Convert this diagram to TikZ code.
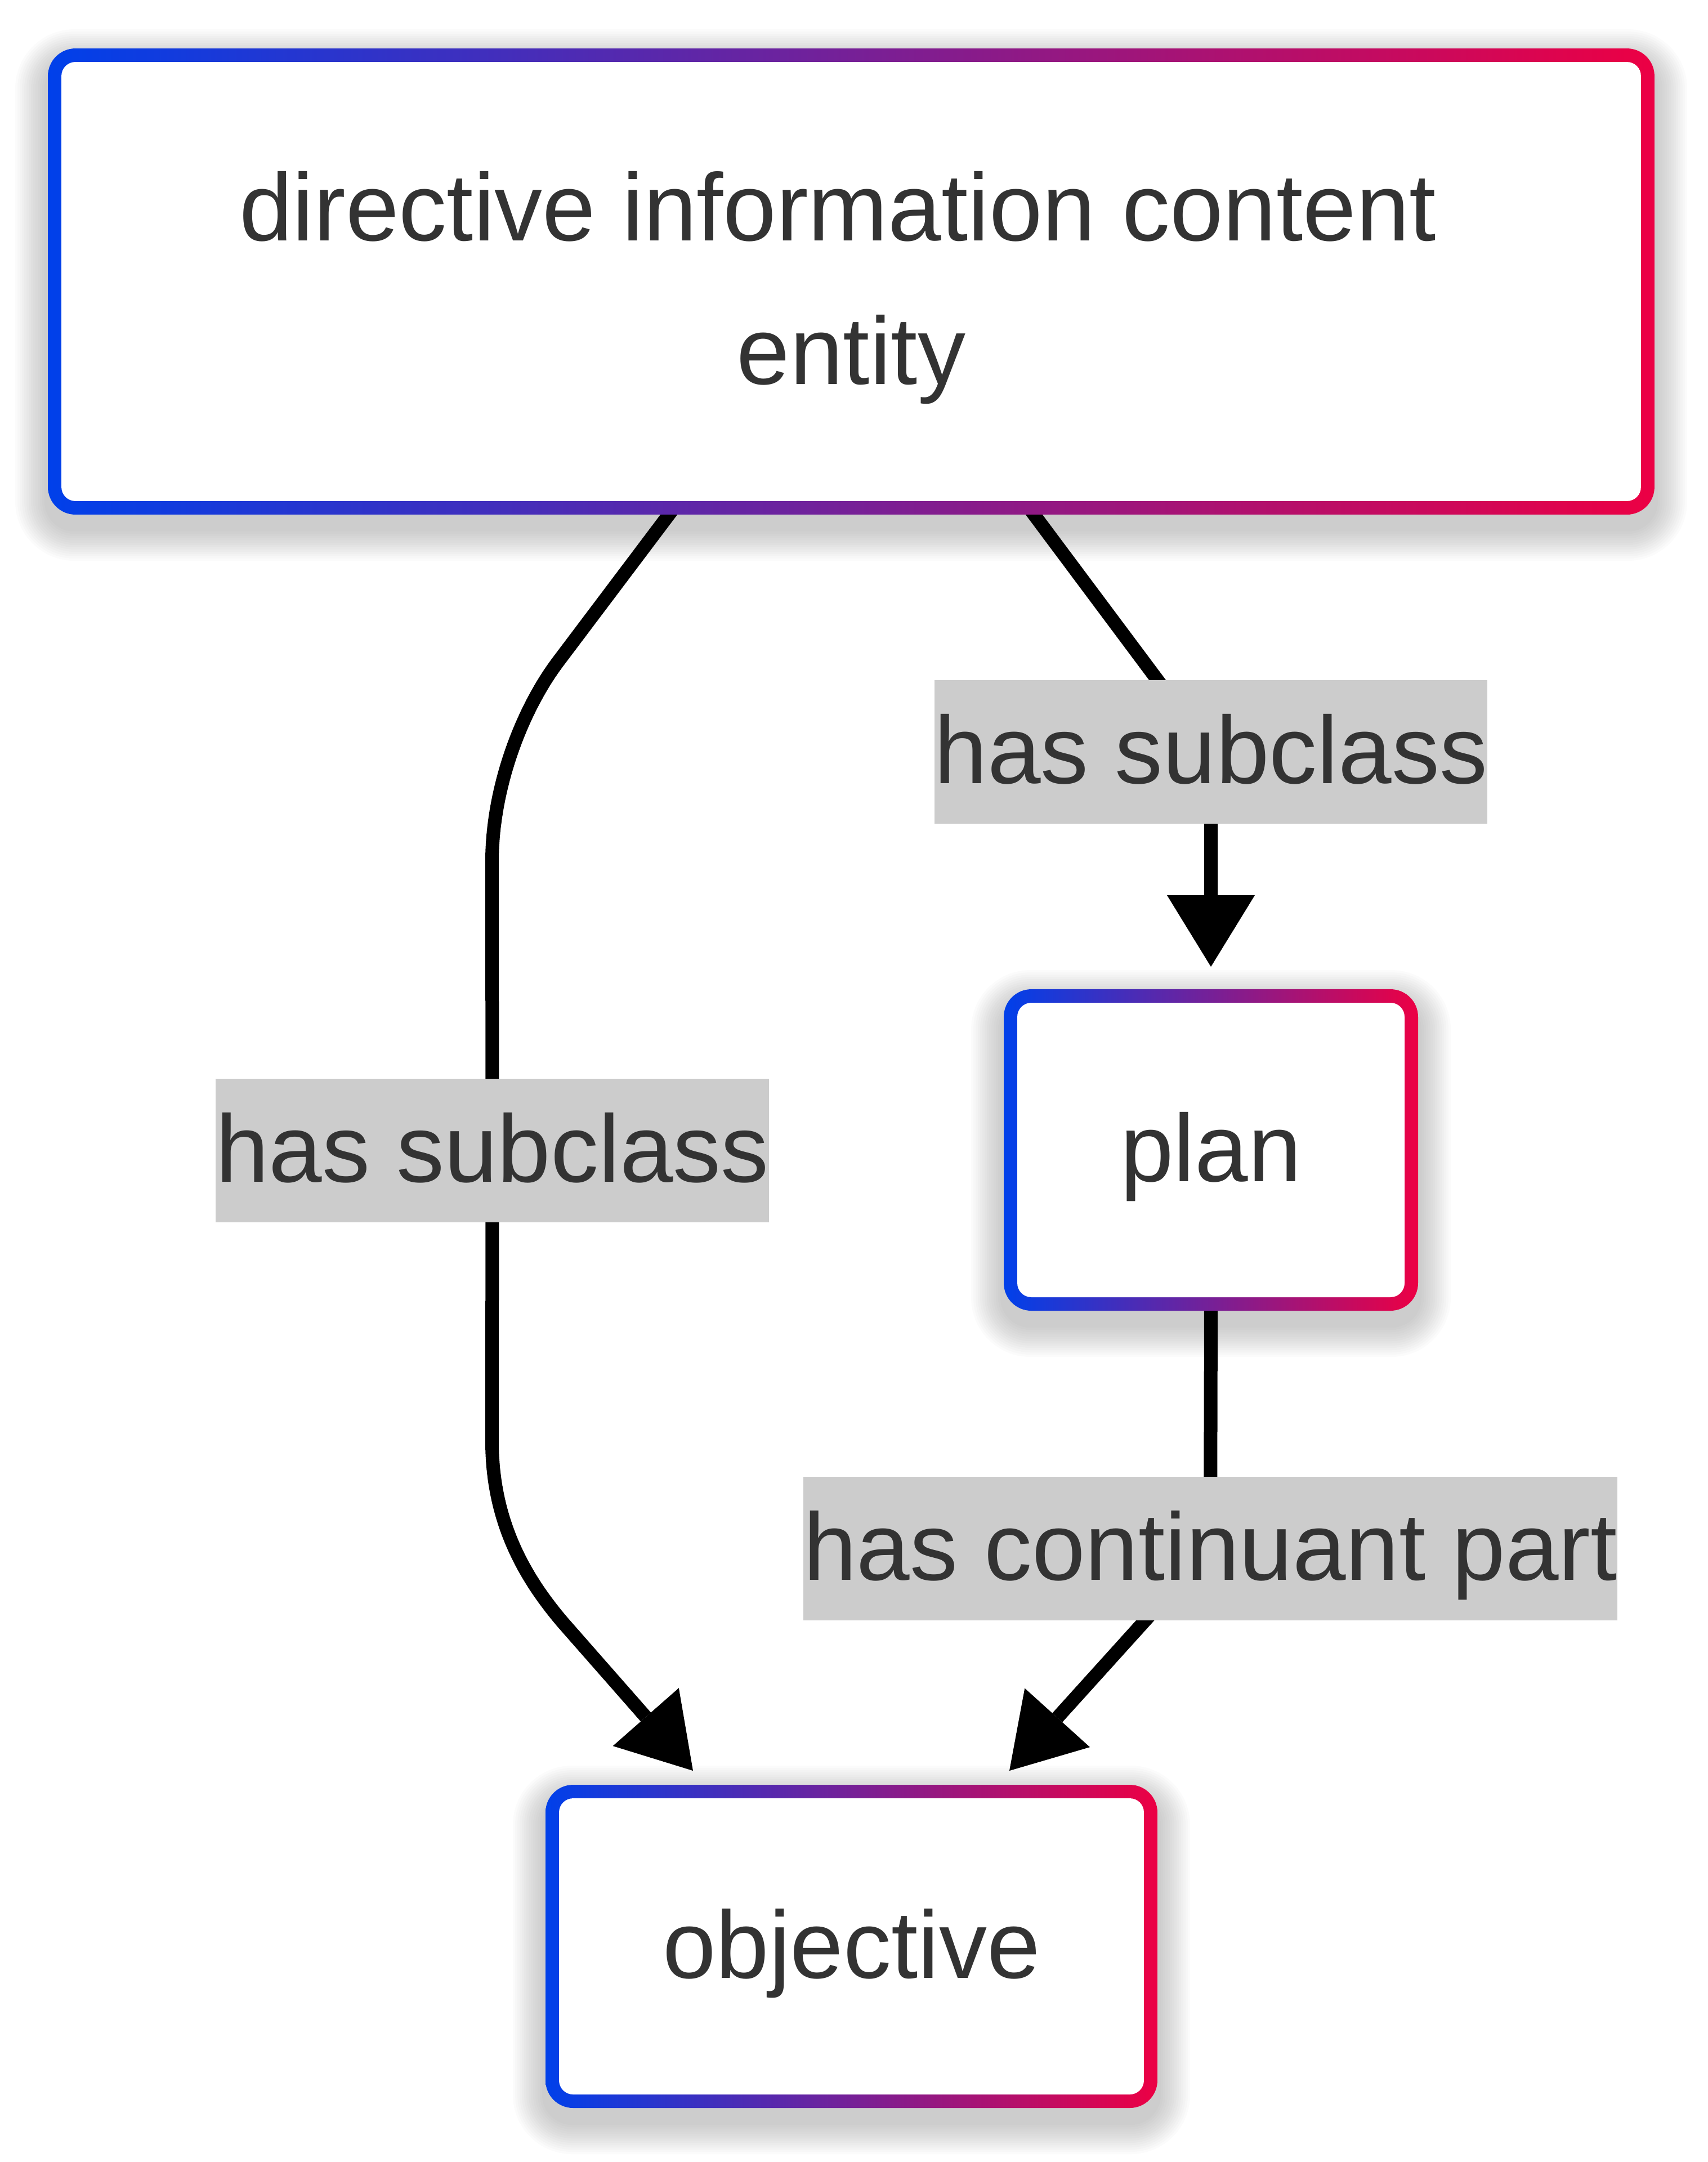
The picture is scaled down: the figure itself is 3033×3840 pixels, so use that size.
\documentclass[tikz,border=0pt]{standalone}
\usepackage{fontspec}
\setmainfont{Liberation Sans}
\usetikzlibrary{arrows.meta,calc,backgrounds}
\definecolor{cblue}{RGB}{0,64,234}
\definecolor{cred}{RGB}{236,0,68}
\definecolor{labelbg}{RGB}{204,204,204}
\definecolor{txt}{RGB}{51,51,51}
\newcommand\mkshadow[1]{%
  \foreach \i in {1,...,14}{%
    \pgfmathsetmacro\rc{4.9+0.4*\i}%
    \fill[black,fill opacity=0.014,rounded corners=\rc pt]
      ($(#1.south west)+(-4*\i,24+4*\i)$) rectangle ($(#1.north east)+(4*\i,24-4*\i)$);
  }}
\begin{document}
\begin{tikzpicture}[x=0.1pt,y=-0.1pt,
  ent/.style={rectangle, inner sep=0pt, rounded corners=4.9pt,
    left color=cblue, right color=cred, text=txt,
    font=\fontsize{17pt}{25.5pt}\selectfont, align=center,
    path picture={\fill[white, rounded corners=2.5pt]
      ([shift={(2.4pt,2.4pt)}]path picture bounding box.south west) rectangle
      ([shift={(-2.4pt,-2.4pt)}]path picture bounding box.north east);}},
  elab/.style={fill=labelbg, inner xsep=0pt, inner ysep=0pt, minimum height=25.5pt,
    text height=14.8pt, text depth=3.6pt, text=txt,
    font=\fontsize{17pt}{25.5pt}\selectfont},
  conn/.style={draw=black, line width=2.4pt,
    -{Triangle[length=12.7pt,width=15.6pt,line width=0pt]}}]
\useasboundingbox (0,0) rectangle (3033,3840);
\node[ent, minimum width=285.4pt, minimum height=82.8pt, text height=40pt, text depth=3.6pt]
  (dice) at (1512,500) {directive information content\hphantom{\ }\\entity};
\node[ent, minimum width=73.6pt, minimum height=57.1pt, text height=14.8pt, text depth=3.6pt]
  (plan) at (2151,2042.5) {plan};
\node[ent, minimum width=108.7pt, minimum height=57.4pt, text height=14.8pt, text depth=3.6pt]
  (obj) at (1512.5,3457) {objective};
\node[elab] (l1) at (874.5,2043) {has subclass};
\node[elab] (l2) at (2151,1335) {has subclass};
\node[elab] (l3) at (2150,2750) {has continuant part};
\begin{pgfonlayer}{background}
  \mkshadow{dice}\mkshadow{plan}\mkshadow{obj}
  \draw[conn] ($(dice.south)+(-317,-11)$) -- (990,1177) .. controls (926,1263) and (874,1400) .. (874,1530)
    -- (l1.center) -- (874,2560) .. controls (874,2700) and (930,2800) .. (1000,2882)
    -- ($(obj.north)+(-281.5,-23)$);
  \draw[conn, rounded corners=8pt] ($(dice.south)+(318,-11)$) -- (l2.center)
    -- ($(plan.north)+(0,-38)$);
  \draw[conn, rounded corners=8pt] ($(plan.south)+(0,-11)$) -- (l3.center)
    -- ($(obj.north)+(280.5,-23)$);
\end{pgfonlayer}
\end{tikzpicture}
\end{document}
